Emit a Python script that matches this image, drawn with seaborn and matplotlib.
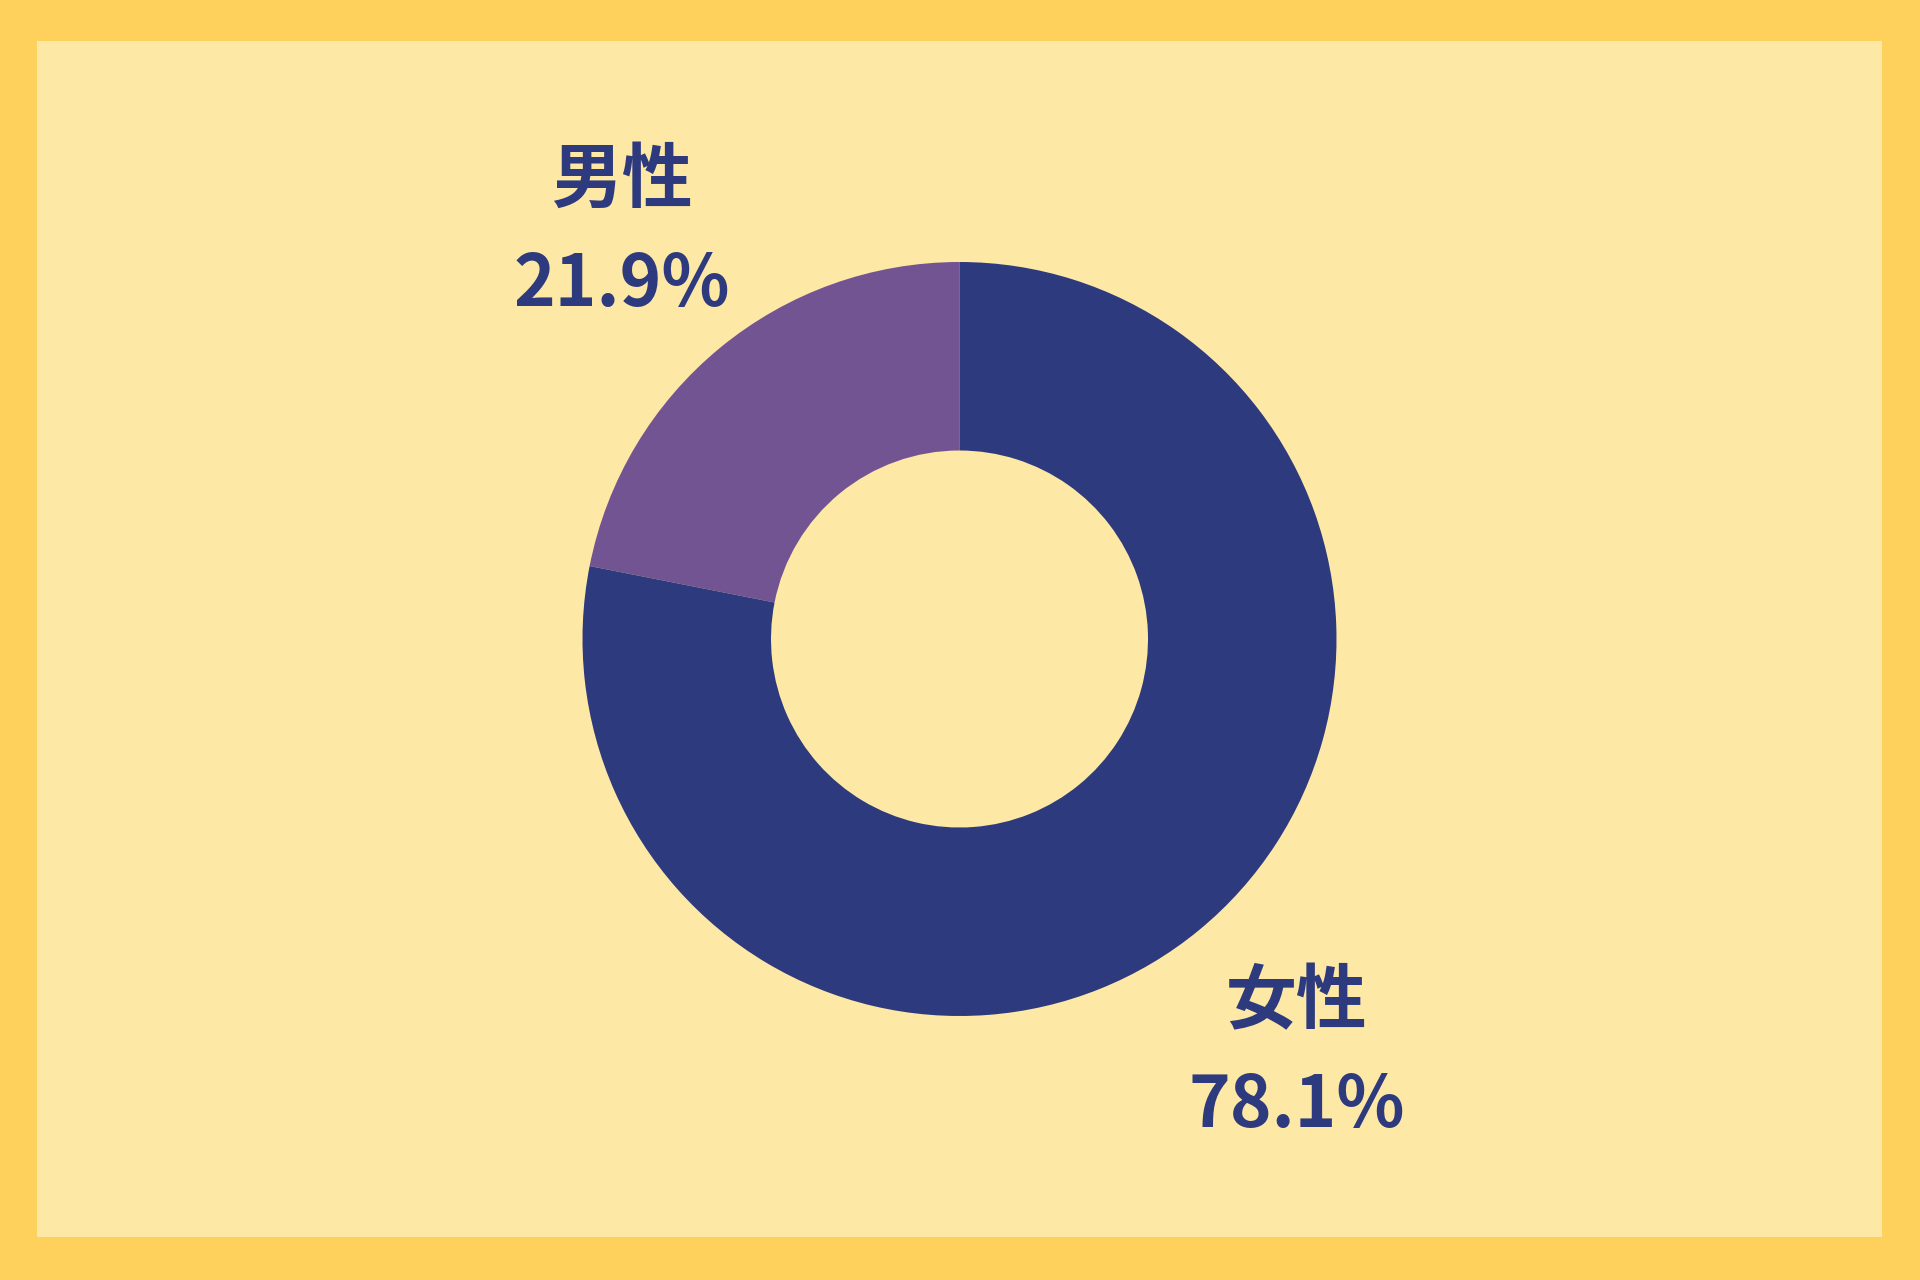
import matplotlib
matplotlib.use('Agg')
import matplotlib.pyplot as plt
import seaborn as sns

# data
labels = ['男性', '女性']
shares = [21.9, 78.1]
colours = ['#735493', '#2E3A7E']

sns.set_theme(style='white')
plt.rcParams['font.family'] = ['Noto Sans CJK JP', 'DejaVu Sans']

W, H = 1920, 1280
fig = plt.figure(figsize=(W / 100, H / 100), dpi=100)
fig.patch.set_facecolor('#FED15C')

# inner panel
left, top, right, bottom = 37, 41, 1882, 1237
ax = fig.add_axes([left / W, 1 - bottom / H, (right - left) / W, (bottom - top) / H])

radius_px = 377
texts = ['{}\n{:.1f}%'.format(l, s) for l, s in zip(labels, shares)]
wedges, txts = ax.pie(shares, labels=texts, colors=sns.color_palette(colours),
                      startangle=90, counterclock=True, radius=1,
                      labeldistance=1.41,
                      wedgeprops=dict(width=0.5, linewidth=0),
                      textprops=dict(fontsize=51, fontweight='bold', color='#2E3A7E',
                                     linespacing=1.55))
for t in txts:
    t.set_horizontalalignment('center')
    t.set_verticalalignment('center')
    t.set_multialignment('center')
    x, y = t.get_position()
    t.set_position((x, y - 0.012))

ax.set_xlim(-(right - left) / (2 * radius_px), (right - left) / (2 * radius_px))
ax.set_ylim(-(bottom - top) / (2 * radius_px), (bottom - top) / (2 * radius_px))
ax.set_aspect('equal')
ax.axis('off')
ax.add_patch(plt.Rectangle((0, 0), 1, 1, transform=ax.transAxes, color='#FEE8A6', zorder=-10))

fig.savefig('out.png', dpi=100, facecolor=fig.get_facecolor())
